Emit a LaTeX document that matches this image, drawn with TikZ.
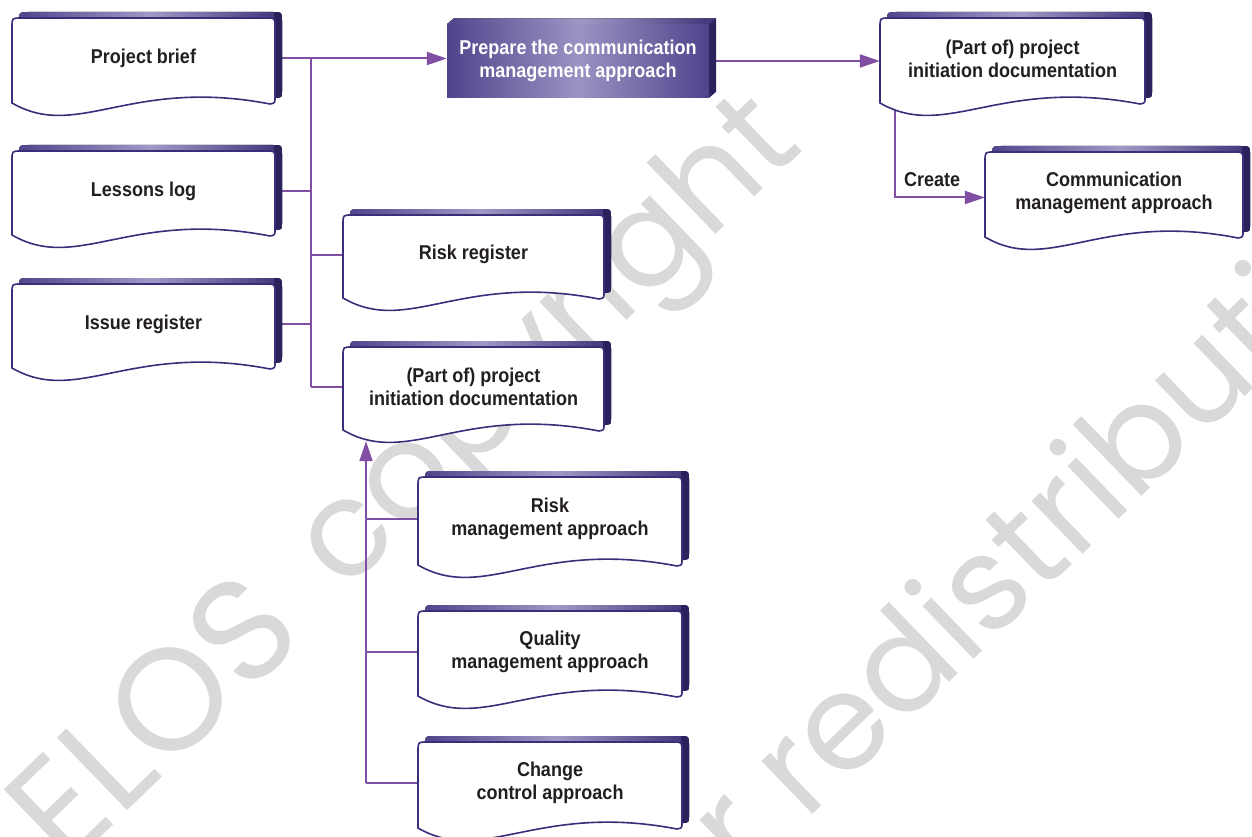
\documentclass[tikz,border=0pt]{standalone}
\usepackage{fontspec}
\newfontfamily\boxfont{Liberation Sans}[FakeStretch=0.9]
\newfontfamily\wmfont{Poppins}
\usetikzlibrary{arrows.meta,calc}
\pgfdeclarelayer{bgl}
\pgfdeclarelayer{midl}
\pgfsetlayers{bgl,midl,main}
\definecolor{conncol}{RGB}{128,78,163}
\definecolor{docline}{RGB}{58,46,122}
\definecolor{bandL}{RGB}{80,70,140}
\definecolor{bandM}{RGB}{160,152,198}
\definecolor{bandR}{RGB}{62,52,120}
\definecolor{dark3d}{RGB}{42,34,92}
\definecolor{txt}{RGB}{35,31,32}
\definecolor{wmcol}{RGB}{217,217,217}
\definecolor{procL}{RGB}{78,68,140}
\definecolor{procM}{RGB}{155,147,195}
\tikzset{
  doctext/.style={font=\boxfont\bfseries\fontsize{20}{23}\selectfont, text=txt, align=center, inner sep=0pt},
  proc/.style={font=\boxfont\bfseries\fontsize{20}{23}\selectfont, text=white, align=center, inner sep=0pt,
    minimum width=262pt, minimum height=73pt, left color=procL, right color=procL, middle color=procM},
  conn/.style={draw=conncol, line width=2pt},
  arr/.style={-{Triangle[length=20pt,width=13pt]}},
  wmtext/.style={font=\wmfont\fontsize{134}{134}\selectfont, text=wmcol, inner sep=0pt, rotate=44},
  wmcaps/.style={wmtext, font=\wmfont\fontsize{145}{145}\selectfont},
}
\newcommand\DocPath[4]{(#1,#4) -- (#1,{#2+9}) .. controls (#1,#2) .. ({#1+9},#2) -- ({#3-9},#2) .. controls (#3,#2) .. (#3,{#2+9}) -- (#3,{#4-5}) .. controls (#3,#4) .. ({#3-5},{#4+1}) .. controls ({#1+0.45*(#3-#1)},{#4-26}) and ({#1+0.25*(#3-#1)},{#4+38}) .. (#1,#4) -- cycle}
\newcommand\docnode[6]{%
  \node[doctext, minimum width={(#4-#2)*1pt}, minimum height={(#5-#3)*1pt}] (#1) at ({(#2+#4)/2},{(#3+#5)/2-2}) {#6};
  \begin{pgfonlayer}{midl}
    \fill[shift={(7,-6)}, left color=bandL, right color=bandR, middle color=bandM] \DocPath{#2}{#3}{#4}{#5};
    \begin{scope}
      \clip[shift={(7,-6)}] \DocPath{#2}{#3}{#4}{#5};
      \fill[dark3d] ({#4-1},{#3-20}) rectangle ({#4+20},{#5+20});
    \end{scope}
    \filldraw[fill=white, draw=docline, line width=1.6pt] \DocPath{#2}{#3}{#4}{#5};
  \end{pgfonlayer}
}
\begin{document}
\begin{tikzpicture}[x=1pt, y=-1pt]
\useasboundingbox (0,0) rectangle (1252,837);
\begin{pgfonlayer}{bgl}
  \fill[white] (0,0) rectangle (1252,837);
  \node[wmcaps, anchor=base east] (wm1a) at (308,637) {AXELOS};
  \node[wmtext, anchor=base west] (wm1b) at (344,594) {copyright};
  \node[wmtext, anchor=base east] (wm2a) at (780,846) {for};
  \node[wmtext, anchor=base west] (wm2b) at (805,822) {redistribution};
\end{pgfonlayer}

\docnode{pb}{12}{18}{275}{103}{Project brief}
\docnode{ll}{12}{151}{275}{235}{Lessons log}
\docnode{ir}{12}{284}{275}{368}{Issue register}
\docnode{rr}{343}{215}{604}{298}{Risk register}
\docnode{pid2}{343}{347}{604}{430}{(Part of) project\\initiation documentation}
\docnode{pid1}{880}{18}{1145}{103}{(Part of) project\\initiation documentation}
\docnode{comm}{985}{152}{1243}{237}{Communication\\management approach}
\docnode{rma}{418}{477}{682}{565}{Risk\\management approach}
\docnode{qma}{418}{611}{682}{696}{Quality\\management approach}
\docnode{cca}{418}{742}{682}{828}{Change\\control approach}

\node[proc] (prep) at (578,61) {Prepare the communication\\management approach};
\begin{pgfonlayer}{midl}
  \fill[left color=bandL, right color=bandR, middle color=bandM] (prep.north west) -- ([shift={(7,-6)}]prep.north west) -- ([shift={(7,-6)}]prep.north east) -- (prep.north east) -- cycle;
  \fill[dark3d] (prep.south east) -- (prep.north east) -- ([shift={(7,-6)}]prep.north east) -- ([shift={(7,-6)}]prep.south east) -- cycle;
\end{pgfonlayer}

\node[doctext, anchor=west] (create) at (904,180) {Create};

\coordinate (trunk) at (311,0);
\coordinate (ltrunk) at (366,0);
\coordinate (cx) at (895,0);
\begin{pgfonlayer}{bgl}
  \draw[conn,arr] (pb.east) -- (pb.east -| prep.west);
  \draw[conn] (pb.east -| trunk) -- (pid2.west -| trunk);
  \draw[conn] (ll.east) -- (ll.east -| trunk);
  \draw[conn] (ir.east) -- (ir.east -| trunk);
  \draw[conn] (rr.west) -- (rr.west -| trunk);
  \draw[conn] (pid2.west) -- (pid2.west -| trunk);
  \draw[conn,arr] (prep.east) -- (prep.east -| pid1.west);
  \draw[conn,arr] (pid1.south -| cx) |- ($(comm.west)+(0,5)$);
  \draw[conn,arr] (cca.west -| ltrunk) -- ($(pid2.south -| ltrunk)+(0,13)$);
  \draw[conn] (rma.west) -- (rma.west -| ltrunk);
  \draw[conn] (qma.west) -- (qma.west -| ltrunk);
  \draw[conn] (cca.west) -- (cca.west -| ltrunk);
\end{pgfonlayer}
\end{tikzpicture}
\end{document}
